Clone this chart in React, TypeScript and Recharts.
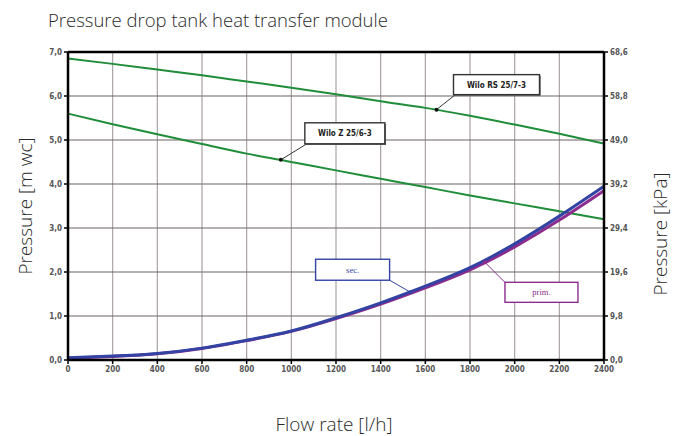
import React from "react";
import {
  LineChart,
  Line,
  XAxis,
  YAxis,
  CartesianGrid,
  ReferenceLine,
  ReferenceDot,
} from "recharts";

// Flow rate [l/h]
const flows = [0, 200, 400, 600, 800, 1000, 1200, 1400, 1600, 1800, 2000, 2200, 2400];

// Pump curves [m wc]
const wiloRs = [6.85, 6.73, 6.6, 6.47, 6.33, 6.19, 6.04, 5.88, 5.73, 5.55, 5.35, 5.14, 4.92];
const wiloZ = [5.6, 5.36, 5.13, 4.91, 4.69, 4.5, 4.31, 4.12, 3.93, 3.74, 3.56, 3.38, 3.2];

// Heat transfer module pressure drop [m wc]
const secValues = [0.05, 0.09, 0.15, 0.27, 0.45, 0.66, 0.96, 1.3, 1.68, 2.1, 2.64, 3.27, 3.95];
const primValues = [0.04, 0.08, 0.14, 0.26, 0.44, 0.65, 0.94, 1.27, 1.64, 2.05, 2.57, 3.18, 3.85];

const leftTicks = [0, 1, 2, 3, 4, 5, 6, 7];
const rightTicks = [0, 9.8, 19.6, 29.4, 39.2, 49.0, 58.8, 68.6];

// 1 m wc = 9.8 kPa
const KPA_PER_MWC = 9.8;

// callout anchors on the curves
const callouts = [
  { key: "rs", label: "Wilo RS 25/7-3", flow: 1650, value: 5.69 },
  { key: "z", label: "Wilo Z 25/6-3", flow: 953, value: 4.55 },
  { key: "sec", label: "sec.", flow: 1534, value: 1.54 },
  { key: "prim", label: "prim.", flow: 1867, value: 2.22 },
];

const data = flows.map((flow, i) => ({
  flow,
  rs: wiloRs[i],
  z: wiloZ[i],
  sec: secValues[i],
  prim: primValues[i],
  // same curve in kPa, only used so the right axis gets drawn
  secKpa: secValues[i] * KPA_PER_MWC,
}));

const GREEN = "#1f8d3a";
const BLUE = "#3343a3";
const PURPLE = "#8c2c8e";

// box offsets relative to the anchor point, plus which box corner the leader goes to
const boxStyles: Record<string, any> = {
  rs: { dx: 17, dy: -35, w: 86, h: 20, lx: 2, ly: 20, color: "#333", text: "#222", bold: true },
  z: { dx: 24, dy: -37, w: 80, h: 21, lx: 2, ly: 21, color: "#333", text: "#222", bold: true },
  sec: { dx: -95, dy: -33, w: 74, h: 21, lx: 74, ly: 21, color: BLUE, text: BLUE, bold: false },
  prim: { dx: 20, dy: 20, w: 73, h: 20, lx: 0, ly: 0, color: PURPLE, text: PURPLE, bold: false },
};

const comma = (v: number) => v.toFixed(1).replace(".", ",");

const Callout = (props: any) => {
  const { cx, cy, id } = props;
  const s = boxStyles[id];
  const c = callouts.find((x) => x.key === id)!;
  const bx = cx + s.dx;
  const by = cy + s.dy;
  return (
    <g>
      <line x1={cx} y1={cy} x2={bx + s.lx} y2={by + s.ly} stroke={s.color} strokeWidth={1} />
      <circle cx={cx} cy={cy} r={2} fill={s.bold ? "#111" : s.color} />
      {s.bold && <rect x={bx + 1.2} y={by + 1.2} width={s.w} height={s.h} fill="#666" />}
      <rect x={bx} y={by} width={s.w} height={s.h} fill="#fff" stroke={s.color} strokeWidth={1.4} />
      <text
        x={bx + s.w / 2}
        y={by + s.h / 2 + 3}
        textAnchor="middle"
        fontSize={s.bold ? 8 : 8.5}
        fontWeight={s.bold ? 700 : 400}
        fontFamily={s.bold ? "DejaVu Sans Condensed, DejaVu Sans" : "Liberation Serif"}
        fill={s.text}
      >
        {c.label}
      </text>
    </g>
  );
};

const tickStyle = { fill: "#555", fontSize: 8, fontFamily: "DejaVu Sans Condensed, DejaVu Sans", fontWeight: 700 };
const labelFont = "Open Sans, Noto Sans, sans-serif";

export default function App() {
  return (
    <div style={{ position: "absolute", left: 0, top: 0, width: 683, height: 436, background: "#fff" }}>
      <LineChart
        width={683}
        height={436}
        data={data}
        margin={{ top: 52, right: 39, left: 30, bottom: 52 }}
      >
        <CartesianGrid yAxisId="left" horizontal={false} stroke="#a9a2a2" strokeWidth={1.2} />
        <CartesianGrid yAxisId="left" vertical={false} stroke="#6f6565" strokeWidth={1.2} />
        <XAxis
          dataKey="flow"
          type="number"
          domain={[0, 2400]}
          ticks={flows}
          height={24}
          axisLine={{ stroke: "#000", strokeWidth: 2.5 }}
          tickLine={{ stroke: "#000", strokeWidth: 1.5 }}
          tickSize={4}
          tick={tickStyle}
        />
        <YAxis
          yAxisId="left"
          domain={[0, 7]}
          ticks={leftTicks}
          width={38}
          tickFormatter={comma}
          axisLine={{ stroke: "#000", strokeWidth: 2.5 }}
          tickLine={{ stroke: "#000", strokeWidth: 1.5 }}
          tickSize={4}
          tick={tickStyle}
        />
        <YAxis
          yAxisId="right"
          orientation="right"
          domain={[0, 68.6]}
          ticks={rightTicks}
          interval={0}
          width={40}
          tickFormatter={comma}
          axisLine={{ stroke: "#000", strokeWidth: 2.5 }}
          tickLine={{ stroke: "#000", strokeWidth: 1.5 }}
          tickSize={4}
          tick={tickStyle}
        />
        <ReferenceLine yAxisId="left" y={7} stroke="#000" strokeWidth={2.5} />
        <Line yAxisId="right" dataKey="secKpa" stroke="none" dot={false} activeDot={false} isAnimationActive={false} />
        <Line yAxisId="left" dataKey="rs" type="monotone" stroke={GREEN} strokeWidth={2} dot={false} isAnimationActive={false} />
        <Line yAxisId="left" dataKey="z" type="monotone" stroke={GREEN} strokeWidth={2} dot={false} isAnimationActive={false} />
        <Line yAxisId="left" dataKey="prim" type="natural" stroke={PURPLE} strokeWidth={3} dot={false} isAnimationActive={false} />
        <Line yAxisId="left" dataKey="sec" type="natural" stroke={BLUE} strokeWidth={3} dot={false} isAnimationActive={false} />
        {callouts.map((c) => (
          <ReferenceDot
            key={c.key}
            yAxisId="left"
            x={c.flow}
            y={c.value}
            r={2}
            shape={(p: any) => <Callout {...p} id={c.key} />}
          />
        ))}
        <text x={48} y={27} fontSize={18.5} fontFamily={labelFont} fontWeight={300} fill="#2a2a2a">
          Pressure drop tank heat transfer module
        </text>
        <text
          x={0}
          y={0}
          transform="translate(32, 206) rotate(-90)"
          textAnchor="middle"
          fontSize={19}
          fontFamily={labelFont}
          fontWeight={300}
          fill="#2a2a2a"
        >
          Pressure [m wc]
        </text>
        <text
          x={0}
          y={0}
          transform="translate(667, 234) rotate(-90)"
          textAnchor="middle"
          fontSize={19}
          fontFamily={labelFont}
          fontWeight={300}
          fill="#2a2a2a"
        >
          Pressure [kPa]
        </text>
        <text x={334} y={431} textAnchor="middle" fontSize={19} fontFamily={labelFont} fontWeight={300} fill="#2a2a2a">
          Flow rate [l/h]
        </text>
      </LineChart>
    </div>
  );
}
